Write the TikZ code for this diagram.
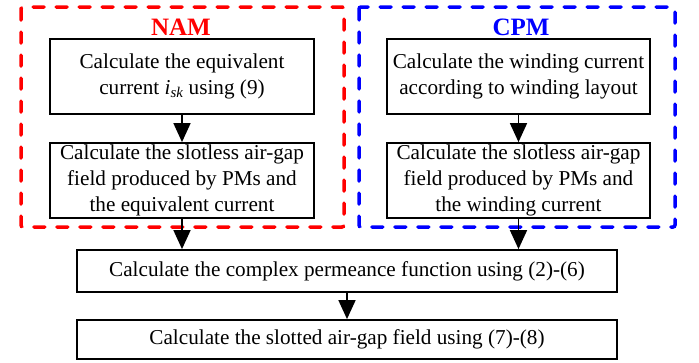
\documentclass[tikz,border=0pt]{standalone}
\usepackage{fontspec}
\setmainfont{Liberation Serif}
\usetikzlibrary{arrows.meta}
\definecolor{nred}{RGB}{255,0,0}
\definecolor{nblue}{RGB}{0,0,255}
\tikzset{
  stepbox/.style={draw=black, line width=1.8pt, minimum width=#1, inner sep=0pt, align=center,
    font=\fontsize{21.2}{26}\selectfont},
  groupbox/.style={draw=#1, line width=3.5pt, line cap=round, rounded corners=2pt, dash pattern=on 11pt off 12pt},
  flow/.style={line width=1.6pt, -{Triangle[width=17pt,length=19pt]}},
  grouplabel/.style={font=\fontsize{25}{30}\selectfont\bfseries, text=#1, inner sep=0pt}
}
\begin{document}
\begin{tikzpicture}[x=1pt,y=-1pt]
\useasboundingbox (0,0) rectangle (699,362);
% group frames
\draw[groupbox=nred] (21,7) rectangle (344,227);
\draw[groupbox=nblue] (359,7) rectangle (675,227);
\node[grouplabel=nred] (lnam) at (181,27) {NAM};
\node[grouplabel=nblue] (lcpm) at (521,27) {CPM};
% NAM
\node[stepbox=264pt, minimum height=75pt] (n1) at (182,76.5) {Calculate the equivalent\\current \textit{i\textsubscript{sk}} using (9)};
\node[stepbox=264pt, minimum height=75pt] (n2) at (182,180.5) {Calculate the slotless air-gap\\field produced by PMs and\\the equivalent current};
% CPM
\node[stepbox=263pt, minimum height=75pt] (c1) at (518.5,76.5) {Calculate the winding current\\according to winding layout};
\node[stepbox=263pt, minimum height=75pt] (c2) at (518.5,180.5) {Calculate the slotless air-gap\\field produced by PMs and\\the winding current};
% bottom
\node[stepbox=540pt, minimum height=42pt] (b1) at (347,271) {Calculate the complex permeance function using (2)-(6)};
\node[stepbox=540pt, minimum height=39pt] (b2) at (347,339.5) {Calculate the slotted air-gap field using (7)-(8)};
% connectors
\draw[flow] (n1.south) -- (n2.north);
\draw[flow] (c1.south) -- (c2.north);
\draw[flow] (n2.south) -- (n2.south |- b1.north);
\draw[flow] (c2.south) -- (c2.south |- b1.north);
\draw[flow] (b1.south) -- (b2.north);
\end{tikzpicture}
\end{document}
